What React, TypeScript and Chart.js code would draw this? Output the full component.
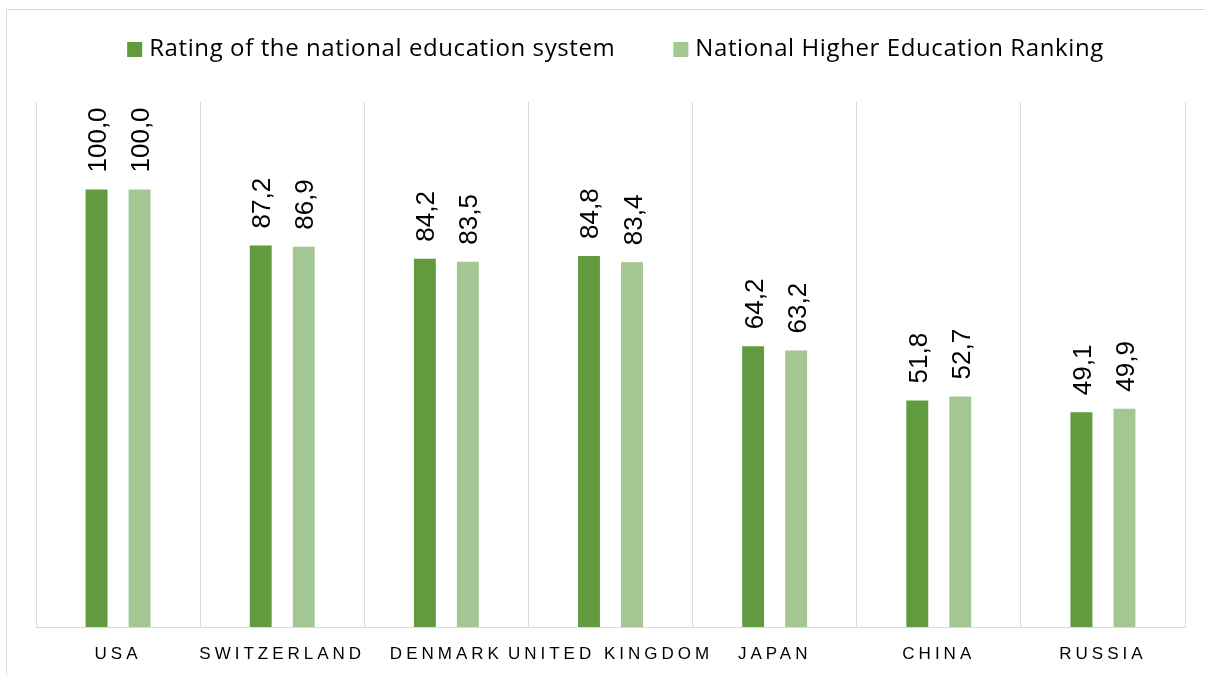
import React, { useEffect, useRef } from "react";
import { Chart, registerables } from "chart.js";

Chart.register(...registerables);

const categories = ["USA", "SWITZERLAND", "DENMARK", "UNITED KINGDOM", "JAPAN", "CHINA", "RUSSIA"];
const ratingSystem = [100.0, 87.2, 84.2, 84.8, 64.2, 51.8, 49.1];
const higherEdRanking = [100.0, 86.9, 83.5, 83.4, 63.2, 52.7, 49.9];
const seriesNames = ["Rating of the national education system", "National Higher Education Ranking"];
const seriesColors = ["#629B3F", "#A3C692"];

const W = 1205;
const H = 675;
const GRID = "#d9d9d9";

const fmt = (v: number) => v.toFixed(1).replace(".", ",");

const framePlugin = {
  id: "frame",
  beforeDraw(chart: any) {
    const ctx = chart.ctx;
    ctx.save();
    ctx.fillStyle = "#ffffff";
    ctx.fillRect(0, 0, W, H);
    ctx.strokeStyle = GRID;
    ctx.lineWidth = 1;
    ctx.beginPath();
    ctx.moveTo(6.5, H);
    ctx.lineTo(6.5, 9.5);
    ctx.lineTo(W, 9.5);
    ctx.stroke();
    ctx.restore();
  },
};

const legendPlugin = {
  id: "customLegend",
  afterDraw(chart: any) {
    const ctx = chart.ctx;
    ctx.save();
    ctx.font = "24px 'Open Sans'";
    (ctx as any).letterSpacing = "0.6px";
    ctx.textBaseline = "middle";
    ctx.textAlign = "left";
    const box = 15;
    const gapText = 7;
    const gapItem = 58;
    const ds = chart.data.datasets;
    const widths = ds.map((d: any) => ctx.measureText(d.label).width);
    let total = 0;
    widths.forEach((w: number, i: number) => {
      total += box + gapText + w + (i < widths.length - 1 ? gapItem : 0);
    });
    let x = 615.5 - total / 2;
    const cy = 49.5;
    ds.forEach((d: any, i: number) => {
      ctx.fillStyle = d.backgroundColor;
      ctx.fillRect(x, cy - box / 2, box, box);
      x += box + gapText;
      ctx.fillStyle = "#000000";
      ctx.fillText(d.label, x, cy);
      x += widths[i] + gapItem;
    });
    ctx.restore();
  },
};

const labelsPlugin = {
  id: "barLabels",
  afterDatasetsDraw(chart: any) {
    const ctx = chart.ctx;
    ctx.save();
    ctx.font = "26px 'Liberation Sans'";
    ctx.fillStyle = "#000000";
    ctx.textAlign = "left";
    ctx.textBaseline = "alphabetic";
    chart.data.datasets.forEach((d: any, di: number) => {
      const meta = chart.getDatasetMeta(di);
      meta.data.forEach((el: any, i: number) => {
        ctx.save();
        ctx.translate(el.x + 9.5, el.y - 17);
        ctx.rotate(-Math.PI / 2);
        ctx.fillText(fmt(d.data[i]), 0, 0);
        ctx.restore();
      });
    });
    // category labels
    const xs = chart.scales.x;
    ctx.font = "17px 'Liberation Sans'";
    (ctx as any).letterSpacing = "4px";
    ctx.textAlign = "center";
    ctx.textBaseline = "middle";
    chart.data.labels.forEach((lab: string, i: number) => {
      ctx.fillText(lab, xs.getPixelForValue(i), 654);
    });
    ctx.restore();
  },
};

export default function App() {
  const ref = useRef<HTMLCanvasElement | null>(null);
  useEffect(() => {
    if (!ref.current) return;
    const chart = new Chart(ref.current, {
      type: "bar",
      data: {
        labels: categories,
        datasets: [
          {
            label: seriesNames[0],
            data: ratingSystem,
            backgroundColor: seriesColors[0],
            categoryPercentage: 0.524,
            barPercentage: 0.51,
          },
          {
            label: seriesNames[1],
            data: higherEdRanking,
            backgroundColor: seriesColors[1],
            categoryPercentage: 0.524,
            barPercentage: 0.51,
          },
        ],
      },
      options: {
        responsive: false,
        animation: false,
        layout: { padding: { top: 102, left: 36, right: 20, bottom: 48 } },
        plugins: {
          legend: { display: false },
          tooltip: { enabled: false },
        },
        scales: {
          x: {
            grid: { color: GRID, offset: true, drawTicks: false },
            border: { color: GRID, width: 1 },
            ticks: { display: false },
          },
          y: {
            display: false,
            min: 0,
            max: 120,
          },
        },
      },
      plugins: [framePlugin, legendPlugin, labelsPlugin],
    });
    return () => chart.destroy();
  }, []);
  return (
    <div style={{ position: "fixed", left: 0, top: 0, width: W, height: H, background: "#fff" }}>
      <canvas ref={ref} width={W} height={H} style={{ width: W, height: H, display: "block" }} />
    </div>
  );
}
